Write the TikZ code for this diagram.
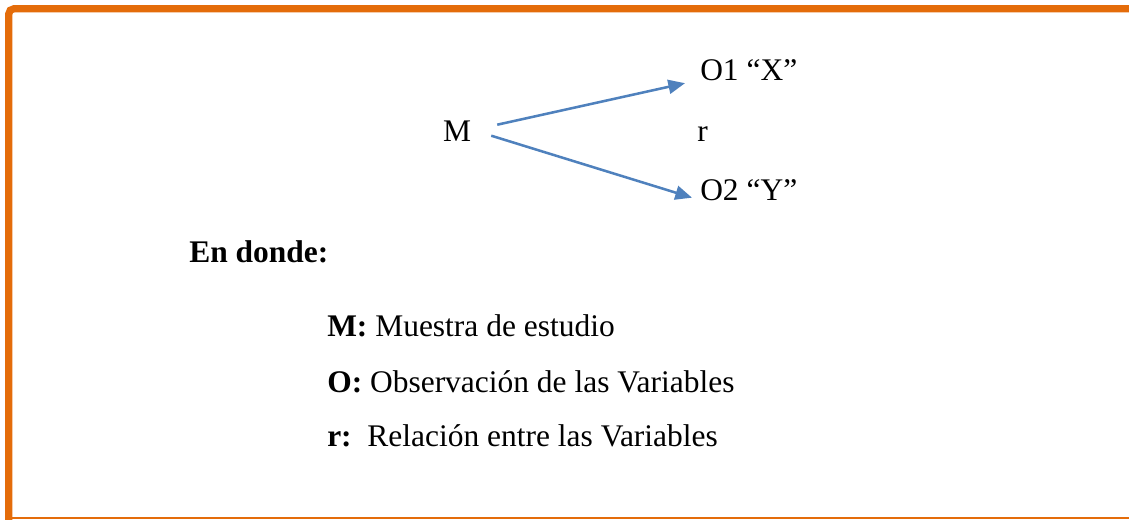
\documentclass[tikz,border=0pt]{standalone}
\usepackage{fontspec}
\setmainfont{Liberation Serif}
\usetikzlibrary{arrows.meta,calc}
\definecolor{bordeorange}{RGB}{228,108,10}
\definecolor{flecheblue}{RGB}{79,129,189}
\newcommand{\taillet}{\fontsize{23.6}{28}\selectfont}
\tikzset{
  txt/.style={inner sep=0pt,font=\taillet},
  fleche/.style={draw=flecheblue,line width=1.9pt,-{Triangle[length=12.5pt,width=10.5pt]}}
}
\begin{document}
\begin{tikzpicture}[x=0.75pt,y=-0.75pt]
        \useasboundingbox (0,0) rectangle (1129,519);
        \draw[bordeorange,line width=5.4pt,rounded corners=4pt] (1135,8.7) -- (8.7,8.7) -- (8.7,525);
        \draw[bordeorange,line width=2pt] (8.7,518) -- (1135,518);
        \node[txt,anchor=base] (m) at (457,141) {M};
        \node[txt,anchor=base west] (o1) at (700,80) {O1 ``X''};
        \node[txt,anchor=base west] (o2) at (700,200) {O2 ``Y''};
        \node[txt,anchor=base west] (r) at (697,141) {r};
        \draw[fleche] ($(m.east)+(26,-6)$) -- ($(o1.west)+(-15,13.5)$);
        \draw[fleche] ($(m.east)+(20,5)$) -- ($(o2.west)+(-8,8)$);
        \node[txt,anchor=base west] (endonde) at (189,262) {\textbf{En donde:}};
        \node[txt,anchor=base west] (legm) at (327,336.7) {\textbf{M:} Muestra de estudio};
        \node[txt,anchor=base west] (lego) at (327,392.3) {\textbf{O:} Observación de las Variables};
        \node[txt,anchor=base west] (legr) at (327,446.7) {\textbf{r:}\ \ Relación entre las Variables};
      \end{tikzpicture}
\end{document}
